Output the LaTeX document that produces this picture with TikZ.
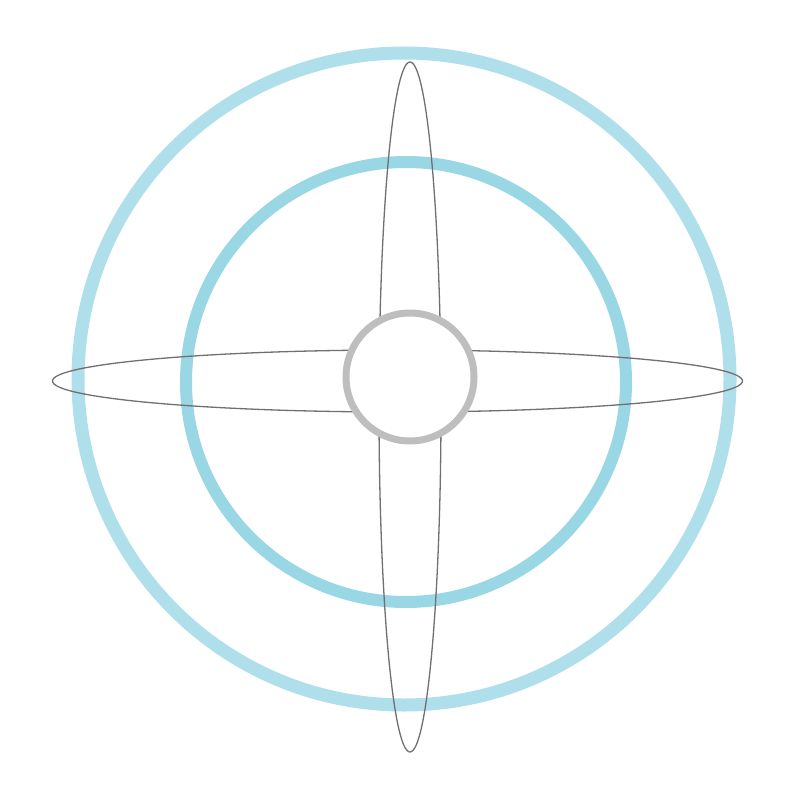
\documentclass[tikz,border=0pt]{standalone}
\usepackage{tikz}
\definecolor{outerblue}{HTML}{AEDFEA}
\definecolor{innerblue}{HTML}{9AD7E5}
\definecolor{hubgray}{HTML}{BEBEBE}
\definecolor{linegray}{HTML}{707070}
\tikzset{
  ring/.style={draw, fill=none},
  petal/.style={draw=linegray, line width=1.3pt, fill=none},
}
\begin{document}
\begin{tikzpicture}[x=1pt,y=-1pt]
\useasboundingbox (0,0) rectangle (800,789);
\fill[white] (0,0) rectangle (800,789);
\draw[ring, draw=outerblue, line width=13pt] (404,379) circle (326);
\draw[ring, draw=innerblue, line width=12pt] (406,382) circle (220);
\draw[petal] (410,407) ellipse (31 and 345);
\draw[petal] (397.5,381) ellipse (345 and 31);
\node[circle, draw=hubgray, fill=white, line width=7pt, minimum size=128pt, inner sep=0pt] (hub) at (410,377) {};
\end{tikzpicture}
\end{document}
